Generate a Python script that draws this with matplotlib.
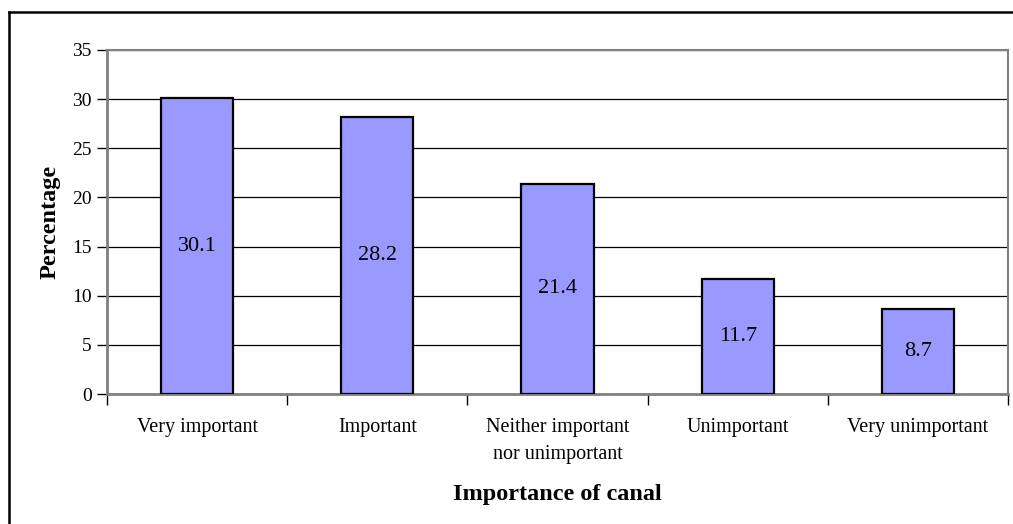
import matplotlib
matplotlib.use("Agg")
import matplotlib.pyplot as plt
import numpy as np
from matplotlib.lines import Line2D

CATEGORIES = ["Very important", "Important", "Neither important\nnor unimportant",
              "Unimportant", "Very unimportant"]
PERCENT = [30.1, 28.2, 21.4, 11.7, 8.7]
Y_TICKS = [0, 5, 10, 15, 20, 25, 30, 35]

BAR = "#9999FF"
SPINE = "#808080"

plt.rcParams.update({
    "font.family": ["Liberation Serif", "DejaVu Serif"],
    "font.size": 14,
})

fig = plt.figure(figsize=(10.13, 5.24), dpi=100)
fig.patch.set_facecolor("white")
ax = fig.add_axes([0.1056, 0.248, 0.8895, 0.6566])

x = np.arange(len(CATEGORIES))
ax.bar(x, PERCENT, width=0.4, color=BAR, edgecolor="black", linewidth=1.6, zorder=3)
for xi, v in zip(x, PERCENT):
    ax.text(xi, v / 2, f"{v:.1f}", ha="center", va="center", fontsize=16, zorder=4)

ax.set_xlim(-0.5, len(CATEGORIES) - 0.5)
ax.set_ylim(0, 35)
ax.set_yticks(Y_TICKS)
ax.grid(axis="y", color="black", lw=0.9, zorder=0)

# boundary ticks between categories, labels centred under the bars
ax.set_xticks(np.arange(-0.5, len(CATEGORIES), 1.0))
ax.set_xticklabels([])
ax.set_xticks(x, minor=True)
ax.set_xticklabels(CATEGORIES, minor=True, fontsize=14.5, linespacing=1.6)
ax.tick_params(axis="x", which="major", length=8, width=1, color="black")
ax.tick_params(axis="x", which="minor", length=0, pad=17)
ax.tick_params(axis="y", length=7, width=1, color="black", pad=4, labelsize=14)

for side in ["left", "bottom"]:
    ax.spines[side].set_color(SPINE)
    ax.spines[side].set_linewidth(2)
for side in ["top", "right"]:
    ax.spines[side].set_color(SPINE)
    ax.spines[side].set_linewidth(1.5)

ax.set_ylabel("Percentage", fontsize=17.5, fontweight="bold", labelpad=8)
ax.set_xlabel("Importance of canal", fontsize=17.5, fontweight="bold", labelpad=14)

# outer chart frame
fig.add_artist(Line2D([0.0089, 1.0], [0.977, 0.977], color="black", lw=1.8))
fig.add_artist(Line2D([0.0089, 0.0089], [0.0, 0.977], color="black", lw=1.8))

fig.savefig("out.png", dpi=100)
